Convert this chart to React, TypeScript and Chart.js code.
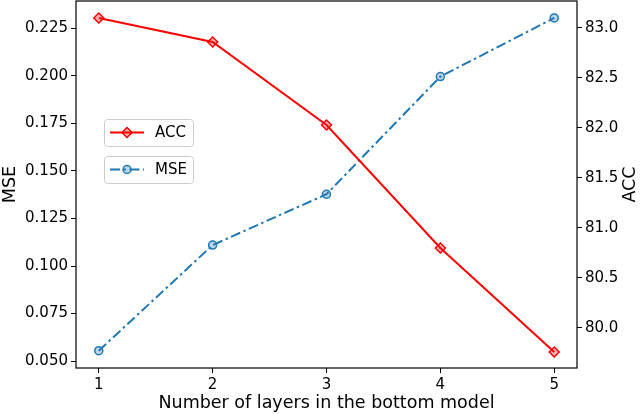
import React, { useEffect, useRef } from "react";
import { Chart, registerables } from "chart.js";

Chart.register(...registerables);

const LAYERS = [1, 2, 3, 4, 5];
const MSE = [0.0555, 0.111, 0.1377, 0.1995, 0.2303];
const ACC = [83.1, 82.86, 82.03, 80.8, 79.76];
const X_TICKS = [1, 2, 3, 4, 5];
const MSE_TICKS = [0.05, 0.075, 0.1, 0.125, 0.15, 0.175, 0.2, 0.225];
const ACC_TICKS = [80.0, 80.5, 81.0, 81.5, 82.0, 82.5, 83.0];

const FONT = '"DejaVu Sans", sans-serif';
const RED = "#ff0000";
const BLUE = "#1f77b4";
const DASHDOT = [10, 3.5, 2.5, 3.5];

const framePlugin = {
  id: "frameAndLegend",
  afterDraw(chart: any) {
    const { ctx, chartArea: a } = chart;
    ctx.save();
    ctx.strokeStyle = "#000";
    ctx.lineWidth = 1.2;
    ctx.strokeRect(a.left, a.top, a.right - a.left, a.bottom - a.top);

    // right axis title, rotated bottom-to-top
    ctx.save();
    ctx.fillStyle = "#000";
    ctx.font = `17.5px ${FONT}`;
    ctx.translate(630, (a.top + a.bottom) / 2);
    ctx.rotate(-Math.PI / 2);
    ctx.textAlign = "center";
    ctx.textBaseline = "middle";
    ctx.fillText("ACC", 0, 0);
    ctx.restore();

    // legends
    const boxes = [
      { y: 119, label: "ACC", color: RED, dash: [] as number[], marker: "diamond" },
      { y: 156, label: "MSE", color: BLUE, dash: DASHDOT, marker: "circle" },
    ];
    for (const b of boxes) {
      ctx.save();
      ctx.beginPath();
      (ctx as any).roundRect(104.5, b.y + 0.5, 89, 27, 3);
      ctx.fillStyle = "rgba(255,255,255,0.8)";
      ctx.fill();
      ctx.strokeStyle = "#cccccc";
      ctx.lineWidth = 1;
      ctx.stroke();
      const cy = b.y + 13.5;
      ctx.beginPath();
      ctx.setLineDash(b.dash);
      ctx.strokeStyle = b.color;
      ctx.lineWidth = 2;
      ctx.moveTo(110, cy);
      ctx.lineTo(144, cy);
      ctx.stroke();
      ctx.setLineDash([]);
      ctx.beginPath();
      ctx.lineWidth = 1.5;
      if (b.marker === "diamond") {
        const r = 5;
        ctx.moveTo(127, cy - r);
        ctx.lineTo(127 + r, cy);
        ctx.lineTo(127, cy + r);
        ctx.lineTo(127 - r, cy);
        ctx.closePath();
        ctx.fillStyle = "rgba(255,0,0,0.3)";
      } else {
        ctx.arc(127, cy, 4, 0, Math.PI * 2);
        ctx.fillStyle = "rgba(31,119,180,0.3)";
      }
      ctx.fill();
      ctx.stroke();
      ctx.fillStyle = "#000";
      ctx.font = `15px ${FONT}`;
      ctx.textAlign = "left";
      ctx.textBaseline = "middle";
      ctx.fillText(b.label, 155, cy + 0.5);
      ctx.restore();
    }
    ctx.restore();
  },
};

const tickFont = { family: FONT, size: 15 };
const titleFont = { family: FONT, size: 17.5 };
const gridCfg = {
  display: true,
  drawOnChartArea: false,
  drawTicks: true,
  tickLength: 5,
  color: "#000",
  lineWidth: 1,
};

export default function App() {
  const ref = useRef<HTMLCanvasElement | null>(null);
  useEffect(() => {
    document.body.style.margin = "0";
    const canvas = ref.current!;
    const chart = new Chart(canvas, {
      type: "line",
      data: {
        datasets: [
          {
            label: "ACC",
            data: LAYERS.map((x, i) => ({ x, y: ACC[i] })),
            yAxisID: "y1",
            borderColor: RED,
            backgroundColor: "rgba(255,0,0,0.3)",
            borderWidth: 2,
            pointStyle: "rectRot",
            pointRadius: 5,
            pointBorderWidth: 1.5,
            pointBorderColor: RED,
            pointBackgroundColor: "rgba(255,0,0,0.3)",
            tension: 0,
          },
          {
            label: "MSE",
            data: LAYERS.map((x, i) => ({ x, y: MSE[i] })),
            yAxisID: "y",
            borderColor: BLUE,
            backgroundColor: "rgba(31,119,180,0.3)",
            borderWidth: 2,
            borderDash: DASHDOT,
            pointStyle: "circle",
            pointRadius: 4,
            pointBorderWidth: 1.5,
            pointBorderColor: BLUE,
            pointBackgroundColor: "rgba(31,119,180,0.3)",
            tension: 0,
          },
        ],
      },
      options: {
        responsive: false,
        animation: false,
        devicePixelRatio: 1,
        layout: { autoPadding: false, padding: { top: 1, left: 0, right: 0, bottom: 0 } },
        plugins: { legend: { display: false }, tooltip: { enabled: false } },
        scales: {
          x: {
            type: "linear",
            min: 0.8,
            max: 5.2,
            afterBuildTicks: (s: any) => {
              s.ticks = X_TICKS.map((v) => ({ value: v }));
            },
            afterFit: (s: any) => {
              s.height = 46;
              s.paddingLeft = 0;
              s.paddingRight = 0;
            },
            ticks: {
              color: "#000",
              font: tickFont,
              padding: 3,
              maxRotation: 0,
              callback: (v: any) => String(v),
            },
            grid: gridCfg,
            border: { display: false },
            title: {
              display: true,
              text: "Number of layers in the bottom model",
              color: "#000",
              font: titleFont,
              padding: { top: 0, bottom: 0.5 },
            },
          },
          y: {
            type: "linear",
            position: "left",
            min: 0.04643,
            max: 0.2392,
            afterBuildTicks: (s: any) => {
              s.ticks = MSE_TICKS.map((v) => ({ value: v }));
            },
            afterFit: (s: any) => {
              s.width = 76;
              s.paddingTop = 0;
              s.paddingBottom = 0;
            },
            ticks: {
              color: "#000",
              font: tickFont,
              padding: 3,
              callback: (v: any) => Number(v).toFixed(3),
            },
            grid: gridCfg,
            border: { display: false },
            title: {
              display: true,
              text: "MSE",
              color: "#000",
              font: titleFont,
              padding: { top: 0, bottom: 0 },
            },
          },
          y1: {
            type: "linear",
            position: "right",
            min: 79.6,
            max: 83.27,
            afterBuildTicks: (s: any) => {
              s.ticks = ACC_TICKS.map((v) => ({ value: v }));
            },
            afterFit: (s: any) => {
              s.width = 63;
              s.paddingTop = 0;
              s.paddingBottom = 0;
            },
            ticks: {
              color: "#000",
              font: tickFont,
              padding: 3,
              callback: (v: any) => Number(v).toFixed(1),
            },
            grid: gridCfg,
            border: { display: false },
            title: { display: false },
          },
        },
      },
      plugins: [framePlugin],
    });
    return () => chart.destroy();
  }, []);
  return (
    <div style={{ position: "absolute", left: 0, top: 0, width: 640, height: 414 }}>
      <canvas ref={ref} width={640} height={414} />
    </div>
  );
}
